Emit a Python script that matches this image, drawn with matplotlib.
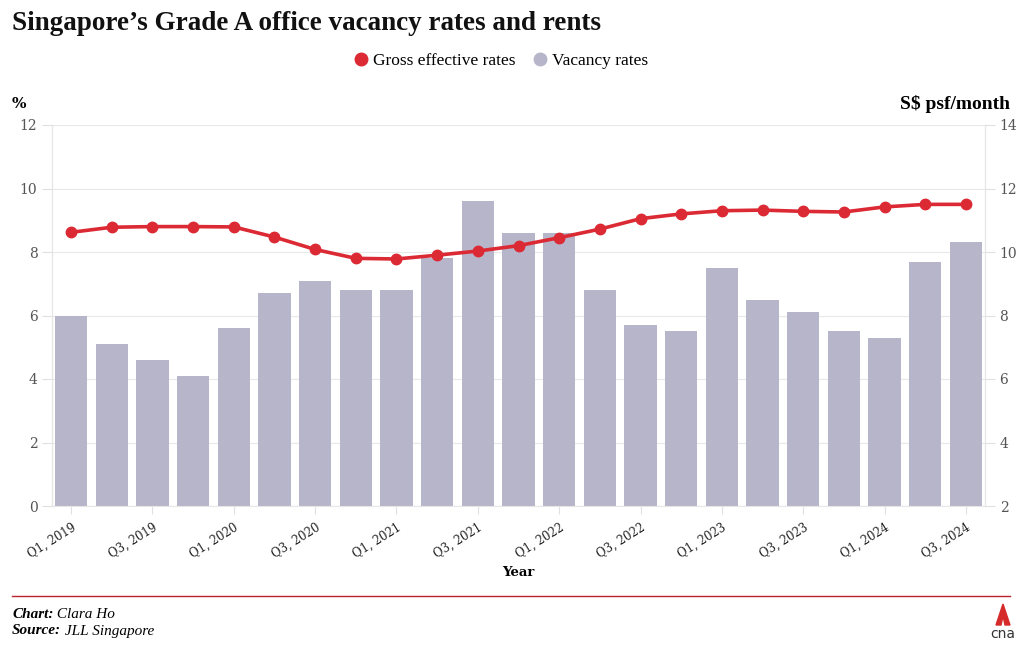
import matplotlib.pyplot as plt
from matplotlib.patches import Polygon
from matplotlib.lines import Line2D

quarters = ["Q1, 2019", "Q2, 2019", "Q3, 2019", "Q4, 2019",
            "Q1, 2020", "Q2, 2020", "Q3, 2020", "Q4, 2020",
            "Q1, 2021", "Q2, 2021", "Q3, 2021", "Q4, 2021",
            "Q1, 2022", "Q2, 2022", "Q3, 2022", "Q4, 2022",
            "Q1, 2023", "Q2, 2023", "Q3, 2023", "Q4, 2023",
            "Q1, 2024", "Q2, 2024", "Q3, 2024"]
vacancy = [6.0, 5.1, 4.6, 4.1, 5.6, 6.7, 7.1, 6.8, 6.8, 7.8, 9.6, 8.6,
           8.6, 6.8, 5.7, 5.5, 7.5, 6.5, 6.1, 5.5, 5.3, 7.7, 8.3]
rents = [10.62, 10.78, 10.8, 10.8, 10.79, 10.47, 10.08, 9.8, 9.78, 9.9, 10.03, 10.2,
         10.45, 10.72, 11.05, 11.2, 11.3, 11.32, 11.28, 11.26, 11.42, 11.5, 11.5]

RED = "#dc2a35"
GREY_BAR = "#b6b5c9"
SERIF = "DejaVu Serif"
HEAD = "Liberation Serif"

fig = plt.figure(figsize=(10.2, 6.5), dpi=100)
ax = fig.add_axes([52 / 1020, 1 - 506 / 650, (985 - 52) / 1020, (506 - 125) / 650])
ax2 = ax.twinx()

x = list(range(len(quarters)))
ax.bar(x, vacancy, width=0.79, color=GREY_BAR, zorder=2)
ax.set_xlim(-0.47, len(quarters) - 0.53)
ax.set_ylim(0, 12)
ax.set_yticks(range(0, 13, 2))
ax.grid(axis="y", color="#e8e8e8", lw=0.8, zorder=0)
ax.set_axisbelow(True)

ax2.plot(x, rents, color=RED, lw=2.6, marker="o", ms=7.5, zorder=5)
ax2.set_ylim(2, 14)
ax2.set_yticks(range(2, 15, 2))

for a in (ax, ax2):
    for s in ("top", "bottom"):
        a.spines[s].set_visible(False)
    a.spines["left"].set_color("#e6e6e6")
    a.spines["right"].set_color("#e6e6e6")
    a.tick_params(axis="y", colors="#e0e0e0", labelcolor="#555555",
                  labelsize=10, length=7, width=0.8)
    for t in a.get_yticklabels():
        t.set_family(SERIF)
ax.spines["bottom"].set_visible(True)
ax.spines["bottom"].set_color("#e6e6e6")

ax.set_xticks(x[::2])
ax.set_xticklabels(quarters[::2], rotation=32, ha="right", rotation_mode="anchor",
                   family=SERIF, fontsize=8.5, color="#222222")
ax.tick_params(axis="x", length=6, color="#e0e0e0", pad=5)
fig.text(518 / 1020, 1 - 572 / 650, "Year", family=SERIF, fontsize=9.5,
         fontweight="bold", ha="center", va="center")

fig.text(12 / 1020, 1 - 24 / 650, "Singapore\u2019s Grade A office vacancy rates and rents",
         family=HEAD, fontsize=19.5, fontweight="bold", va="center", color="#111111")
fig.text(12 / 1020, 1 - 104 / 650, "%", family=SERIF, fontsize=11,
         fontweight="bold", va="center")
fig.text(1010 / 1020, 1 - 104 / 650, "S$ psf/month", family=HEAD, fontsize=14,
         fontweight="bold", va="center", ha="right")

handles = [Line2D([], [], ls="", marker="o", ms=9, color=RED),
           Line2D([], [], ls="", marker="o", ms=9, color=GREY_BAR)]
fig.legend(handles, ["Gross effective rates", "Vacancy rates"], loc="center",
           bbox_to_anchor=(500 / 1020, 1 - 61 / 650), ncol=2, frameon=False,
           prop={"family": HEAD, "size": 12.5}, handletextpad=0.2,
           columnspacing=0.9, handlelength=1.0)

fig.add_artist(Line2D([12 / 1020, 1010 / 1020], [1 - 596 / 650] * 2,
                      color="#b8232e", lw=1))

# footer credits: bold label followed by regular italic text
renderer = fig.canvas.get_renderer()
for ypix, label, rest in [(615, "Chart:", " Clara Ho"), (631, "Source:", " JLL Singapore")]:
    t = fig.text(12 / 1020, 1 - ypix / 650, label, family=HEAD, fontsize=11,
                 style="italic", fontweight="bold", va="center")
    bb = t.get_window_extent(renderer)
    fig.text(bb.x1 / 1020, 1 - ypix / 650, rest, family=HEAD, fontsize=11,
             style="italic", va="center")

# cna logo
tri = Polygon([(996 / 1020, 1 - 625 / 650), (1003 / 1020, 1 - 604 / 650),
               (1010 / 1020, 1 - 625 / 650), (1005 / 1020, 1 - 625 / 650),
               (1003 / 1020, 1 - 616 / 650), (1001 / 1020, 1 - 625 / 650)],
              closed=True, color="#d62b2b", transform=fig.transFigure)
fig.add_artist(tri)
fig.text(1003 / 1020, 1 - 634 / 650, "cna", family="DejaVu Sans", fontsize=10,
         ha="center", va="center", color="#333333")

fig.savefig("out.png", dpi=100)
